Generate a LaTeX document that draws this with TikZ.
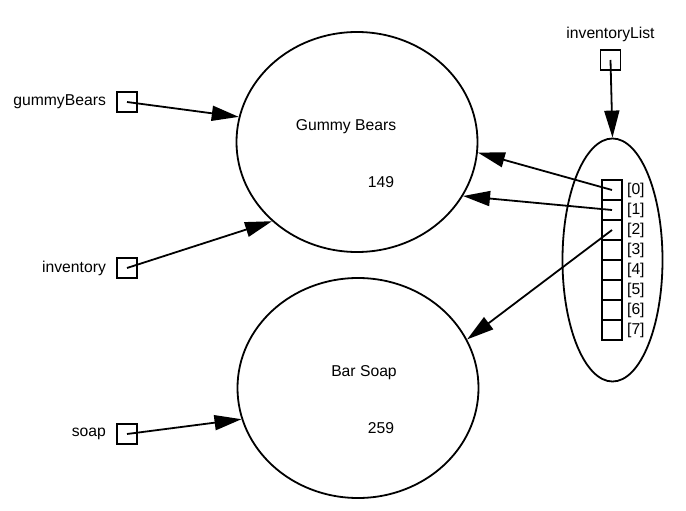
\documentclass[tikz,border=0pt]{standalone}
\usepackage{fontspec}
\setmainfont{Liberation Sans}
\usetikzlibrary{positioning,shapes.geometric,arrows.meta}

\begin{document}
\begin{tikzpicture}[x=1pt, y=-1pt, line width=1.8pt,
	every node/.style={font=\fontsize{15.7}{18}\selectfont},
	ref/.style={draw, minimum size=20pt, inner sep=0pt},
	obj/.style={draw, ellipse, minimum width=241pt, minimum height=220pt},
	ptr/.style={-{Triangle[length=27pt, width=15pt]}}]
\useasboundingbox (0,0) rectangle (686,511);
% objects
\node[obj] (gummy) at (357,142) {};
\node (gname) at (346,127) {Gummy Bears};
\node (gqty) at (381,182) {149};
\node[obj] (soapobj) at (358,388) {};
\node (sname) at (364,373) {Bar Soap};
\node (sqty) at (381,428) {259};
% variables
\node[ref] (gb) at (127,102) {};
\node[left=6pt of gb] (gbname) {gummyBears};
\node[ref] (inv) at (127,268) {};
\node[left=6pt of inv] (invname) {inventory};
\node[ref] (soap) at (127,434) {};
\node[left=6pt of soap] (soapname) {soap};
% the list
\node[draw, ellipse, minimum width=100pt, minimum height=243pt] (list) at (612.5,260) {};
\foreach \i in {0,...,7} {
	\node[ref] (c\i) at (612,190+20*\i) {};
	\node[right=0pt of c\i] (l\i) {[\i]};
}
\node[ref] (il) at (610.5,60) {};
\node (ilname) at (610.5,34.5) {inventoryList};
% references
\draw[ptr] (gb.center) -- (gummy.168);
\draw[ptr] (inv.center) -- (gummy.223);
\draw[ptr] (soap.center) -- (soapobj.195);
\draw[ptr] (il.center) -- (list.north);
\draw[ptr] (c0.center) -- (gummy.355);
\draw[ptr] (c1.center) -- (gummy.333);
\draw[ptr] (c2.center) -- (soapobj.24);
\end{tikzpicture}
\end{document}
